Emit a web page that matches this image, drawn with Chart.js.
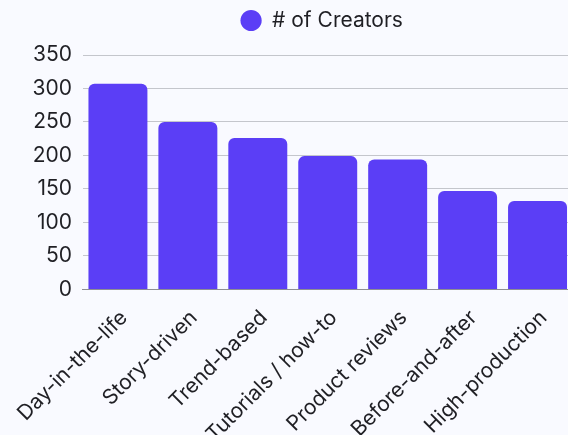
<!DOCTYPE html>
<html>
<head>
<meta charset="utf-8">
<script src="https://cdn.jsdelivr.net/npm/chart.js@4.4.1/dist/chart.umd.min.js"></script>
<style>
  html, body { margin: 0; padding: 0; background: #f9faff; overflow: hidden; }
  #wrap { width: 622px; height: 455px; }
</style>
</head>
<body>
<div id="wrap"><canvas id="chart"></canvas></div>
<script>
// content styles and creator counts
const styles = ['Day-in-the-life', 'Story-driven', 'Trend-based', 'Tutorials / how-to', 'Product reviews', 'Before-and-after', 'High-production'];
const creators = [307, 250, 226, 199, 194, 147, 132];
const yTicks = [0, 50, 100, 150, 200, 250, 300, 350];

const barColor = '#5b3ef6';
const inkColor = '#1f1f24';

// extra gap under the legend
const legendGap = {
  id: 'legendGap',
  beforeInit(chart) {
    const fit = chart.legend.fit;
    chart.legend.fit = function () {
      fit.call(this);
      this.height += 14;
    };
  }
};

new Chart(document.getElementById('chart'), {
  type: 'bar',
  data: {
    labels: styles,
    datasets: [{
      label: '# of Creators',
      data: creators,
      backgroundColor: barColor,
      borderRadius: 6,
      borderSkipped: 'start',
      categoryPercentage: 1,
      barPercentage: 0.843
    }]
  },
  plugins: [legendGap],
  options: {
    responsive: true,
    maintainAspectRatio: false,
    animation: false,
    layout: { padding: { left: 21.5, right: 0, top: 0, bottom: 0 } },
    plugins: {
      legend: {
        position: 'top',
        labels: {
          usePointStyle: true,
          pointStyle: 'circle',
          boxHeight: 15,
          color: inkColor,
          font: { family: 'Inter', size: 21 }
        }
      },
      tooltip: { enabled: false }
    },
    scales: {
      x: {
        grid: { display: false },
        border: { color: '#8e8e94', width: 1 },
        ticks: {
          minRotation: 45,
          maxRotation: 45,
          autoSkip: false,
          padding: 8,
          labelOffset: 6,
          color: inkColor,
          font: { family: 'Inter', size: 21 }
        },
        // leave room on the right side of the plot
        afterFit: (scale) => { scale.paddingRight = 49.5; }
      },
      y: {
        min: 0,
        max: 350,
        afterBuildTicks: (scale) => { scale.ticks = yTicks.map(v => ({ value: v })); },
        grid: { color: '#c4c6cc', drawTicks: false },
        border: { display: false },
        ticks: {
          padding: 11,
          color: inkColor,
          font: { family: 'Inter', size: 21 }
        }
      }
    }
  }
});
</script>
</body>
</html>
